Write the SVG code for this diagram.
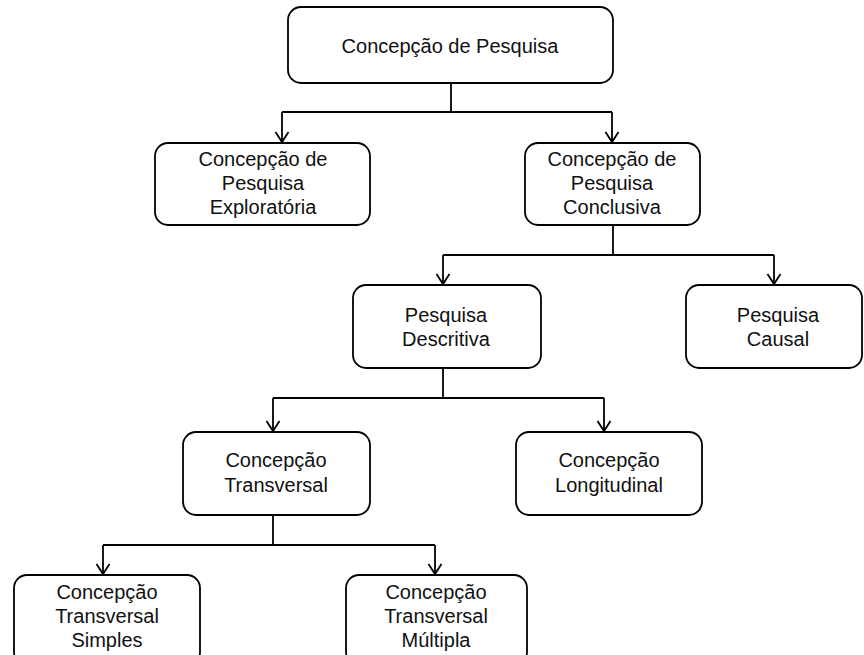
<svg xmlns="http://www.w3.org/2000/svg" width="864" height="655" viewBox="0 0 864 655">
<style>
.box{fill:#fff;stroke:#000;stroke-width:1.8}
.t{font-family:"Liberation Sans",Arial,sans-serif;font-size:20px;fill:#111;text-anchor:middle}
.c{fill:none;stroke:#000;stroke-width:1.8}
</style>
<defs>
<marker id="arr" markerUnits="userSpaceOnUse" viewBox="-1 -8 13 16" markerWidth="13" markerHeight="16" refX="10" refY="0" orient="auto">
<path d="M0,-6.5 L10,0 L0,6.5" fill="none" stroke="#000" stroke-width="1.8"/>
</marker>
</defs>
<rect width="864" height="655" fill="#fff"/>
<g id="connectors">
<path class="c" d="M451,83 V112"/>
<path class="c" d="M282,112 H612"/>
<path class="c" d="M282,112 V142" marker-end="url(#arr)"/>
<path class="c" d="M612,112 V142" marker-end="url(#arr)"/>
<path class="c" d="M613,225 V255"/>
<path class="c" d="M443,255 H774"/>
<path class="c" d="M443,255 V284" marker-end="url(#arr)"/>
<path class="c" d="M774,255 V284" marker-end="url(#arr)"/>
<path class="c" d="M443,368 V398"/>
<path class="c" d="M273,398 H604"/>
<path class="c" d="M273,398 V431" marker-end="url(#arr)"/>
<path class="c" d="M604,398 V431" marker-end="url(#arr)"/>
<path class="c" d="M273,515 V545"/>
<path class="c" d="M103,545 H435"/>
<path class="c" d="M103,545 V574" marker-end="url(#arr)"/>
<path class="c" d="M435,545 V574" marker-end="url(#arr)"/>
</g>
<g id="n-root">
<rect class="box" x="288" y="7" width="325" height="76" rx="13"/>
<text class="t" x="450" y="53">Concepção de Pesquisa</text>
</g>
<g id="n-exploratoria">
<rect class="box" x="155" y="143" width="215" height="82" rx="13"/>
<text class="t" x="263" y="166">Concepção de</text>
<text class="t" x="263" y="190">Pesquisa</text>
<text class="t" x="263" y="214">Exploratória</text>
</g>
<g id="n-conclusiva">
<rect class="box" x="525" y="143" width="175" height="82" rx="13"/>
<text class="t" x="612" y="166">Concepção de</text>
<text class="t" x="612" y="190">Pesquisa</text>
<text class="t" x="612" y="214">Conclusiva</text>
</g>
<g id="n-descritiva">
<rect class="box" x="353" y="285" width="188" height="83" rx="13"/>
<text class="t" x="446" y="322">Pesquisa</text>
<text class="t" x="446" y="346">Descritiva</text>
</g>
<g id="n-causal">
<rect class="box" x="686" y="285" width="176" height="83" rx="13"/>
<text class="t" x="778" y="322">Pesquisa</text>
<text class="t" x="778" y="346">Causal</text>
</g>
<g id="n-transversal">
<rect class="box" x="183" y="432" width="187" height="83" rx="13"/>
<text class="t" x="276" y="467">Concepção</text>
<text class="t" x="276" y="492">Transversal</text>
</g>
<g id="n-longitudinal">
<rect class="box" x="516" y="432" width="186" height="83" rx="13"/>
<text class="t" x="609" y="467">Concepção</text>
<text class="t" x="609" y="492">Longitudinal</text>
</g>
<g id="n-simples">
<rect class="box" x="14" y="575" width="186" height="90" rx="13"/>
<text class="t" x="107" y="599">Concepção</text>
<text class="t" x="107" y="623">Transversal</text>
<text class="t" x="107" y="647">Simples</text>
</g>
<g id="n-multipla">
<rect class="box" x="346" y="575" width="181" height="90" rx="13"/>
<text class="t" x="436" y="599">Concepção</text>
<text class="t" x="436" y="623">Transversal</text>
<text class="t" x="436" y="647">Múltipla</text>
</g>
</svg>
